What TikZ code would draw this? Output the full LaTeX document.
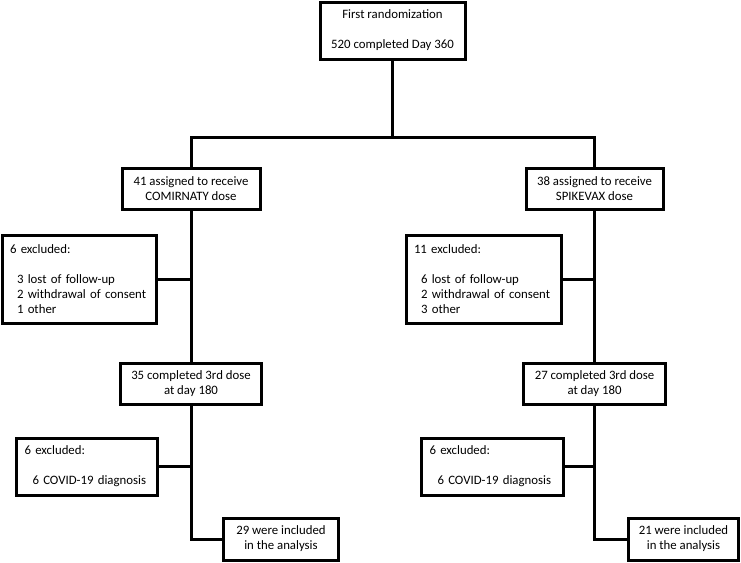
\documentclass[tikz,border=0pt]{standalone}
\usepackage{fontspec}
\setmainfont{Carlito}
\usetikzlibrary{positioning}

\begin{document}
\begin{tikzpicture}[
  box/.style={draw, line width=3pt, outer sep=0pt, align=center, inner sep=0pt,
    font=\fontsize{12.8pt}{15pt}\selectfont},
  excl/.style={draw, line width=3pt, outer sep=0pt, align=left, inner ysep=0pt,
    font=\fontsize{12.8pt}{15pt}\selectfont},
  ln/.style={line width=3pt}
]
\useasboundingbox (0,0) rectangle (741pt,-562pt);
\node[box, minimum width=145pt, minimum height=57pt] (rand) at (392.5pt,-30.5pt)
  {First randomization\\[15pt]520 completed Day 360};
\coordinate[below=78pt of rand.south] (split);
\node[box, minimum width=138pt, minimum height=41pt] (assignL) at (191pt,-188.5pt)
  {41 assigned to receive\\COMIRNATY dose};
\node[box, minimum width=137pt, minimum height=41pt, right=266pt of assignL] (assignR)
  {38 assigned to receive\\SPIKEVAX dose};
% first exclusions
\node[excl, text width=138pt, inner xsep=8pt, minimum height=88pt, below left=26pt and 35pt of assignL.south] (exclL)
  {6 excluded:\\[15pt]\hspace*{7pt}3 lost of follow-up\\\hspace*{7pt}2 withdrawal of consent\\\hspace*{7pt}1 other};
\node[excl, text width=139pt, inner xsep=8pt, minimum height=88pt, below left=26pt and 33.5pt of assignR.south] (exclR)
  {11 excluded:\\[15pt]\hspace*{7pt}6 lost of follow-up\\\hspace*{7pt}2 withdrawal of consent\\\hspace*{7pt}3 other};
% third dose
\node[box, minimum width=141pt, minimum height=41pt, below=154pt of assignL] (doneL)
  {35 completed 3rd dose\\at day 180};
\node[box, minimum width=142pt, minimum height=41pt, below=154pt of assignR] (doneR)
  {27 completed 3rd dose\\at day 180};
% second exclusions
\node[excl, text width=125pt, inner xsep=8pt, minimum height=57pt, below left=34pt and 33.5pt of doneL.south] (covL)
  {6 excluded:\\[15pt]\hspace*{8pt}6 COVID-19 diagnosis};
\node[excl, text width=126pt, inner xsep=8pt, minimum height=57pt, below left=34pt and 31pt of doneR.south] (covR)
  {6 excluded:\\[15pt]\hspace*{8pt}6 COVID-19 diagnosis};
% analysis
\node[box, minimum width=115pt, minimum height=42pt, below right=114pt and 32.5pt of doneL.south] (finL)
  {29 were included\\in the analysis};
\node[box, minimum width=110pt, minimum height=42pt, below right=114pt and 34pt of doneR.south] (finR)
  {21 were included\\in the analysis};
\draw[ln] (rand) -- (split);
\draw[ln] (assignL.north) |- (split) -| (assignR.north);
\draw[ln] (assignL) -- (doneL);
\draw[ln] (assignR) -- (doneR);
\draw[ln] (exclL.east) -- (exclL.east -| assignL.south);
\draw[ln] (exclR.east) -- (exclR.east -| assignR.south);
\draw[ln] (covL.east) -- (covL.east -| doneL.south);
\draw[ln] (covR.east) -- (covR.east -| doneR.south);
\draw[ln] (doneL.south) |- (finL.west);
\draw[ln] (doneR.south) |- (finR.west);
\end{tikzpicture}
\end{document}
